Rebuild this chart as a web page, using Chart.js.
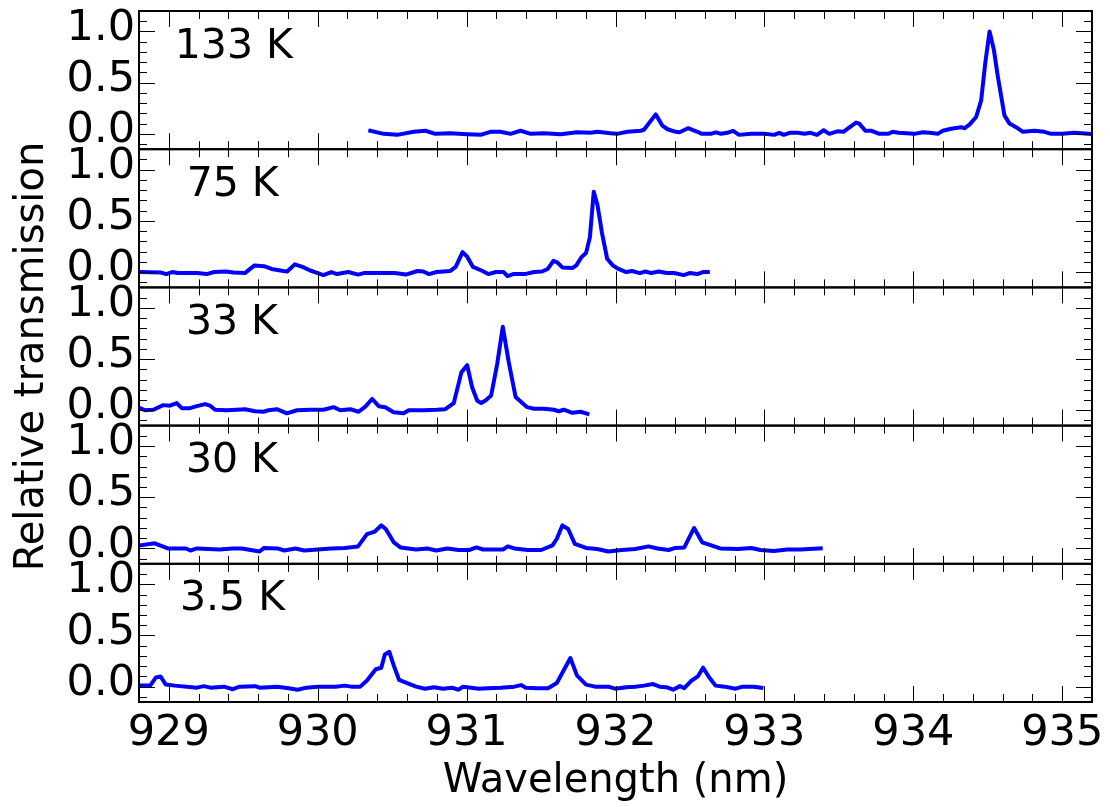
<!DOCTYPE html>
<html>
<head>
<meta charset="utf-8">
<script src="https://cdn.jsdelivr.net/npm/chart.js@4.4.1/dist/chart.umd.min.js"></script>
<style>
  html, body { margin: 0; padding: 0; background: #fff; }
  canvas { display: block; }
</style>
</head>
<body>
<canvas id="spectra" width="1110" height="807"></canvas>
<script>
// Temperature of each spectrum, top panel first
const panelLabels = ['133 K', '75 K', '33 K', '30 K', '3.5 K'];

// Axis tick labels
const xTickValues = [929, 930, 931, 932, 933, 934, 935];
const yTickValues = [0.0, 0.5, 1.0];

// 133 K
const wl133 = [930.353, 930.443, 930.533, 930.645, 930.723, 930.79, 930.89, 931.004, 931.093, 931.16,
  931.228, 931.295, 931.362, 931.43, 931.519, 931.631, 931.743, 931.833, 931.878, 931.967,
  932.01, 932.08, 932.17, 932.191, 932.27, 932.315, 932.35, 932.405, 932.43, 932.487,
  932.55, 932.58, 932.64, 932.673, 932.71, 932.75, 932.79, 932.83, 932.91, 933.0,
  933.066, 933.1, 933.13, 933.17, 933.223, 933.27, 933.31, 933.353, 933.398, 933.436,
  933.49, 933.53, 933.615, 933.637, 933.678, 933.72, 933.772, 933.83, 933.862, 933.9,
  934.007, 934.063, 934.11, 934.164, 934.198, 934.254, 934.321, 934.345, 934.377, 934.422,
  934.456, 934.483, 934.512, 934.541, 934.568, 934.612, 934.646, 934.69, 934.736, 934.814,
  934.88, 934.926, 935.0, 935.08, 935.13, 935.195];
const tr133 = [0.03, 0.0, -0.01, 0.02, 0.03, 0.0, 0.005, -0.005, -0.01, 0.02,
  0.02, 0.0, 0.03, 0.0, 0.005, -0.005, 0.015, 0.01, 0.02, 0.005,
  0.0, 0.02, 0.03, 0.04, 0.19, 0.08, 0.045, 0.02, 0.015, 0.055,
  0.02, 0.0, 0.0, 0.015, 0.0, 0.01, 0.03, -0.01, 0.0, 0.0,
  -0.01, 0.01, -0.01, 0.01, 0.01, 0.0, 0.01, -0.01, 0.035, 0.0,
  0.025, 0.02, 0.11, 0.1, 0.03, 0.03, 0.0, 0.0, 0.02, 0.01,
  0.0, 0.015, 0.01, 0.0, 0.03, 0.05, 0.065, 0.055, 0.09, 0.165,
  0.33, 0.69, 1.0, 0.82, 0.556, 0.18, 0.1, 0.065, 0.02, 0.03,
  0.02, 0.0, 0.0, 0.01, 0.005, 0.0];

// 75 K
const wl75 = [928.804, 928.945, 928.984, 929.023, 929.061, 929.126, 929.19, 929.254, 929.306, 929.383,
  929.434, 929.511, 929.576, 929.64, 929.69, 929.77, 929.795, 929.846, 929.898, 929.95,
  930.0, 930.039, 930.091, 930.13, 930.206, 930.271, 930.309, 930.413, 930.516, 930.592,
  930.67, 930.709, 930.747, 930.799, 930.889, 930.927, 930.973, 931.004, 931.043, 931.107,
  931.146, 931.197, 931.249, 931.275, 931.313, 931.39, 931.454, 931.506, 931.545, 931.583,
  931.609, 931.643, 931.712, 931.737, 931.771, 931.802, 931.828, 931.854, 931.879, 931.91,
  931.944, 931.982, 932.02, 932.072, 932.111, 932.163, 932.201, 932.24, 932.291, 932.343,
  932.394, 932.458, 932.497, 932.549, 932.587, 932.62];
const tr75 = [0.0, -0.005, -0.02, 0.0, -0.01, -0.01, -0.01, -0.02, 0.0, 0.005,
  -0.005, -0.01, 0.065, 0.057, 0.03, 0.01, 0.005, 0.075, 0.05, 0.015,
  -0.01, -0.03, 0.0, -0.02, 0.0, -0.025, -0.01, -0.01, -0.01, -0.025,
  0.01, 0.005, -0.02, 0.0, 0.01, 0.05, 0.195, 0.15, 0.05, 0.01,
  -0.02, 0.0, 0.0, -0.04, -0.02, -0.02, 0.0, 0.005, 0.03, 0.11,
  0.095, 0.045, 0.04, 0.065, 0.145, 0.185, 0.34, 0.785, 0.655, 0.375,
  0.13, 0.065, 0.03, 0.0, 0.01, -0.01, 0.005, -0.01, 0.005, -0.01,
  -0.01, -0.03, -0.01, -0.02, 0.0, 0.0];

// 33 K
const wl33 = [928.807, 928.84, 928.896, 928.963, 929.008, 929.053, 929.087, 929.143, 929.188, 929.244,
  929.277, 929.311, 929.39, 929.457, 929.513, 929.58, 929.636, 929.67, 929.726, 929.793,
  929.861, 929.95, 930.039, 930.107, 930.152, 930.219, 930.275, 930.32, 930.365, 930.41,
  930.454, 930.51, 930.577, 930.611, 930.712, 930.802, 930.857, 930.914, 930.965, 931.004,
  931.037, 931.071, 931.098, 931.127, 931.165, 931.206, 931.243, 931.283, 931.329, 931.374,
  931.407, 931.452, 931.519, 931.586, 931.62, 931.653, 931.71, 931.766, 931.811];
const tr33 = [0.02, 0.0, 0.005, 0.05, 0.045, 0.07, 0.02, 0.02, 0.04, 0.06,
  0.045, 0.005, 0.0, 0.005, 0.01, -0.01, -0.015, 0.0, 0.01, -0.03,
  0.0, 0.005, 0.005, 0.03, 0.0, 0.01, -0.015, 0.035, 0.11, 0.04,
  0.03, -0.02, -0.03, 0.0, 0.0, 0.005, 0.01, 0.07, 0.37, 0.44,
  0.225, 0.095, 0.07, 0.095, 0.145, 0.455, 0.815, 0.47, 0.13, 0.07,
  0.03, 0.015, 0.015, 0.005, -0.01, 0.005, -0.025, -0.015, -0.035];

// 30 K
const wl30 = [928.805, 928.905, 928.994, 929.115, 929.145, 929.19, 929.34, 929.43, 929.49, 929.61,
  929.64, 929.73, 929.775, 929.85, 929.91, 930.0, 930.091, 930.181, 930.271, 930.331,
  930.384, 930.427, 930.457, 930.511, 930.556, 930.661, 930.736, 930.796, 930.871, 930.946,
  931.021, 931.066, 931.111, 931.201, 931.247, 931.276, 931.321, 931.411, 931.501, 931.577,
  931.606, 931.643, 931.682, 931.727, 931.802, 931.877, 931.952, 932.042, 932.132, 932.222,
  932.282, 932.357, 932.402, 932.462, 932.528, 932.582, 932.643, 932.703, 932.822, 932.912,
  932.973, 933.063, 933.153, 933.243, 933.378];
const tr30 = [0.03, 0.05, 0.0, 0.0, -0.02, 0.0, -0.01, 0.0, 0.0, -0.03,
  0.005, 0.0, -0.02, 0.0, -0.02, -0.01, 0.0, 0.005, 0.02, 0.14,
  0.165, 0.225, 0.19, 0.06, 0.01, -0.01, 0.0, -0.02, 0.0, -0.015,
  -0.015, 0.01, -0.01, -0.01, -0.01, 0.02, 0.0, -0.015, -0.015, 0.03,
  0.095, 0.225, 0.19, 0.045, 0.005, -0.005, -0.03, -0.015, -0.005, 0.02,
  0.0, -0.015, 0.005, 0.01, 0.2, 0.06, 0.03, 0.0, -0.005, 0.005,
  -0.015, -0.025, -0.01, -0.01, 0.0];

// 3.5 K
const wl3p5 = [928.805, 928.875, 928.914, 928.944, 928.98, 929.04, 929.19, 929.235, 929.28, 929.37,
  929.43, 929.475, 929.58, 929.61, 929.73, 929.805, 929.865, 929.925, 930.0, 930.121,
  930.181, 930.226, 930.286, 930.331, 930.39, 930.427, 930.451, 930.481, 930.511, 930.547,
  930.601, 930.661, 930.72, 930.781, 930.841, 930.901, 930.946, 930.976, 931.081, 931.141,
  931.231, 931.321, 931.366, 931.397, 931.472, 931.547, 931.606, 931.645, 931.697, 931.741,
  931.802, 931.862, 931.952, 931.997, 932.072, 932.132, 932.192, 932.252, 932.297, 932.342,
  932.387, 932.432, 932.462, 932.507, 932.553, 932.588, 932.627, 932.672, 932.733, 932.807,
  932.853, 932.928, 932.979];
const tr3p5 = [0.01, 0.01, 0.09, 0.1, 0.02, 0.01, -0.01, 0.005, -0.01, 0.0,
  -0.025, 0.0, 0.005, -0.01, 0.0, -0.015, -0.03, -0.01, 0.0, 0.0,
  0.01, 0.0, 0.0, 0.06, 0.17, 0.185, 0.315, 0.34, 0.205, 0.065,
  0.035, 0.0, -0.02, -0.005, -0.02, -0.01, -0.03, 0.0, -0.02, -0.015,
  -0.01, 0.0, 0.015, -0.01, -0.015, -0.015, 0.035, 0.14, 0.28, 0.11,
  0.02, 0.0, 0.0, -0.02, -0.005, 0.0, 0.01, 0.025, 0.0, -0.005,
  -0.03, 0.005, -0.015, 0.055, 0.1, 0.185, 0.095, 0.01, 0.0, -0.02,
  0.0, 0.0, -0.01];

const wavelengths = [wl133, wl75, wl33, wl30, wl3p5];
const transmissions = [tr133, tr75, tr33, tr30, tr3p5];

// ---- layout and styling ----
const FONT = 'DejaVu Sans';
const panelIds = ['p0', 'p1', 'p2', 'p3', 'p4'];
const X_MIN = 928.8, X_MAX = 935.2;
const Y_MIN = -0.15, Y_MAX = 1.2;
// where each temperature label sits, in data units of its own panel
const labelAnchor = [[929.04, 0.745], [929.12, 0.745], [929.115, 0.745], [929.115, 0.745], [929.075, 0.745]];

function panelScale(k) {
  return {
    type: 'linear',
    position: 'left',
    stack: 'panels',
    stackWeight: 1,
    weight: panelIds.length - k,
    min: Y_MIN,
    max: Y_MAX,
    afterBuildTicks: s => { s.ticks = yTickValues.map(v => ({ value: v })); },
    afterFit: s => {
      s.width = 139;
      s.paddingTop = 0; s.paddingBottom = 0;
    },
    grid: { display: false, drawTicks: false },
    border: { display: false },
    ticks: {
      autoSkip: false,
      padding: 4,
      labelOffset: -3,
      color: '#000',
      font: { family: FONT, size: 43 },
      callback: v => Number(v).toFixed(1)
    },
    title: {
      display: k === 2,
      text: 'Relative transmission',
      color: '#000',
      font: { family: FONT, size: 40 },
      padding: { top: 9, bottom: 0 }
    }
  };
}

const scales = {
  x: {
    type: 'linear',
    position: 'bottom',
    min: X_MIN,
    max: X_MAX,
    afterBuildTicks: s => { s.ticks = xTickValues.map(v => ({ value: v })); },
    afterFit: s => {
      s.height = 105;
      s.paddingLeft = 0; s.paddingRight = 0;
    },
    grid: { display: false, drawTicks: false },
    border: { display: false },
    ticks: {
      autoSkip: false,
      maxRotation: 0,
      padding: 6,
      color: '#000',
      font: { family: FONT, size: 43 },
      callback: v => String(v)
    },
    title: {
      display: true,
      text: 'Wavelength (nm)',
      color: '#000',
      font: { family: FONT, size: 40 },
      padding: { top: 0, bottom: 1 }
    }
  }
};
panelIds.forEach((id, k) => { scales[id] = panelScale(k); });

const datasets = panelIds.map((id, k) => ({
  label: panelLabels[k],
  yAxisID: id,
  xAxisID: 'x',
  data: wavelengths[k].map((w, i) => ({ x: w, y: transmissions[k][i] })),
  borderColor: '#0000ff',
  borderWidth: 4,
  borderJoinStyle: 'round',
  borderCapStyle: 'square',
  pointRadius: 0,
  fill: false,
  tension: 0
}));

// Frames, inward tick marks and temperature labels for each panel
const panelDecor = {
  id: 'panelDecor',
  afterDatasetsDraw(chart) {
    const { ctx, chartArea, scales: sc } = chart;
    const xs = sc.x;
    const left = chartArea.left, right = chartArea.right;
    ctx.save();
    panelIds.forEach((id, k) => {
      const ys = sc[id];
      const top = ys.top, bottom = ys.bottom;
      ctx.strokeStyle = '#000';
      ctx.lineWidth = 1;
      ctx.beginPath();
      // wavelength ticks every 0.2 nm, long at whole nanometres
      for (let i = Math.ceil(X_MIN * 5); i <= Math.floor(X_MAX * 5); i++) {
        const v = i / 5;
        const len = (i % 5 === 0) ? 16 : 8;
        const px = Math.round(xs.getPixelForValue(v)) + 0.5;
        ctx.moveTo(px, bottom); ctx.lineTo(px, bottom - len);
        ctx.moveTo(px, top); ctx.lineTo(px, top + len);
      }
      // transmission ticks every 0.1, long every 0.5
      for (let j = Math.ceil(Y_MIN * 10); j < Math.floor(Y_MAX * 10); j++) {
        const v = j / 10;
        const len = (j % 5 === 0) ? 16 : 8;
        const py = Math.round(ys.getPixelForValue(v)) + 0.5;
        ctx.moveTo(left, py); ctx.lineTo(left + len, py);
        ctx.moveTo(right, py); ctx.lineTo(right - len, py);
      }
      ctx.stroke();
      ctx.lineWidth = 2;
      ctx.strokeRect(left, top, right - left, bottom - top);

      ctx.fillStyle = '#000';
      ctx.font = '41px "' + FONT + '"';
      ctx.textAlign = 'left';
      ctx.textBaseline = 'alphabetic';
      const [lx, ly] = labelAnchor[k];
      ctx.fillText(panelLabels[k], xs.getPixelForValue(lx), ys.getPixelForValue(ly));
    });
    ctx.restore();
  }
};

new Chart(document.getElementById('spectra'), {
  type: 'line',
  data: { datasets },
  options: {
    responsive: false,
    animation: false,
    devicePixelRatio: 1,
    layout: { padding: { top: 11, right: 18, left: 0, bottom: 0 } },
    plugins: { legend: { display: false }, tooltip: { enabled: false } },
    scales
  },
  plugins: [panelDecor]
});
</script>
</body>
</html>
